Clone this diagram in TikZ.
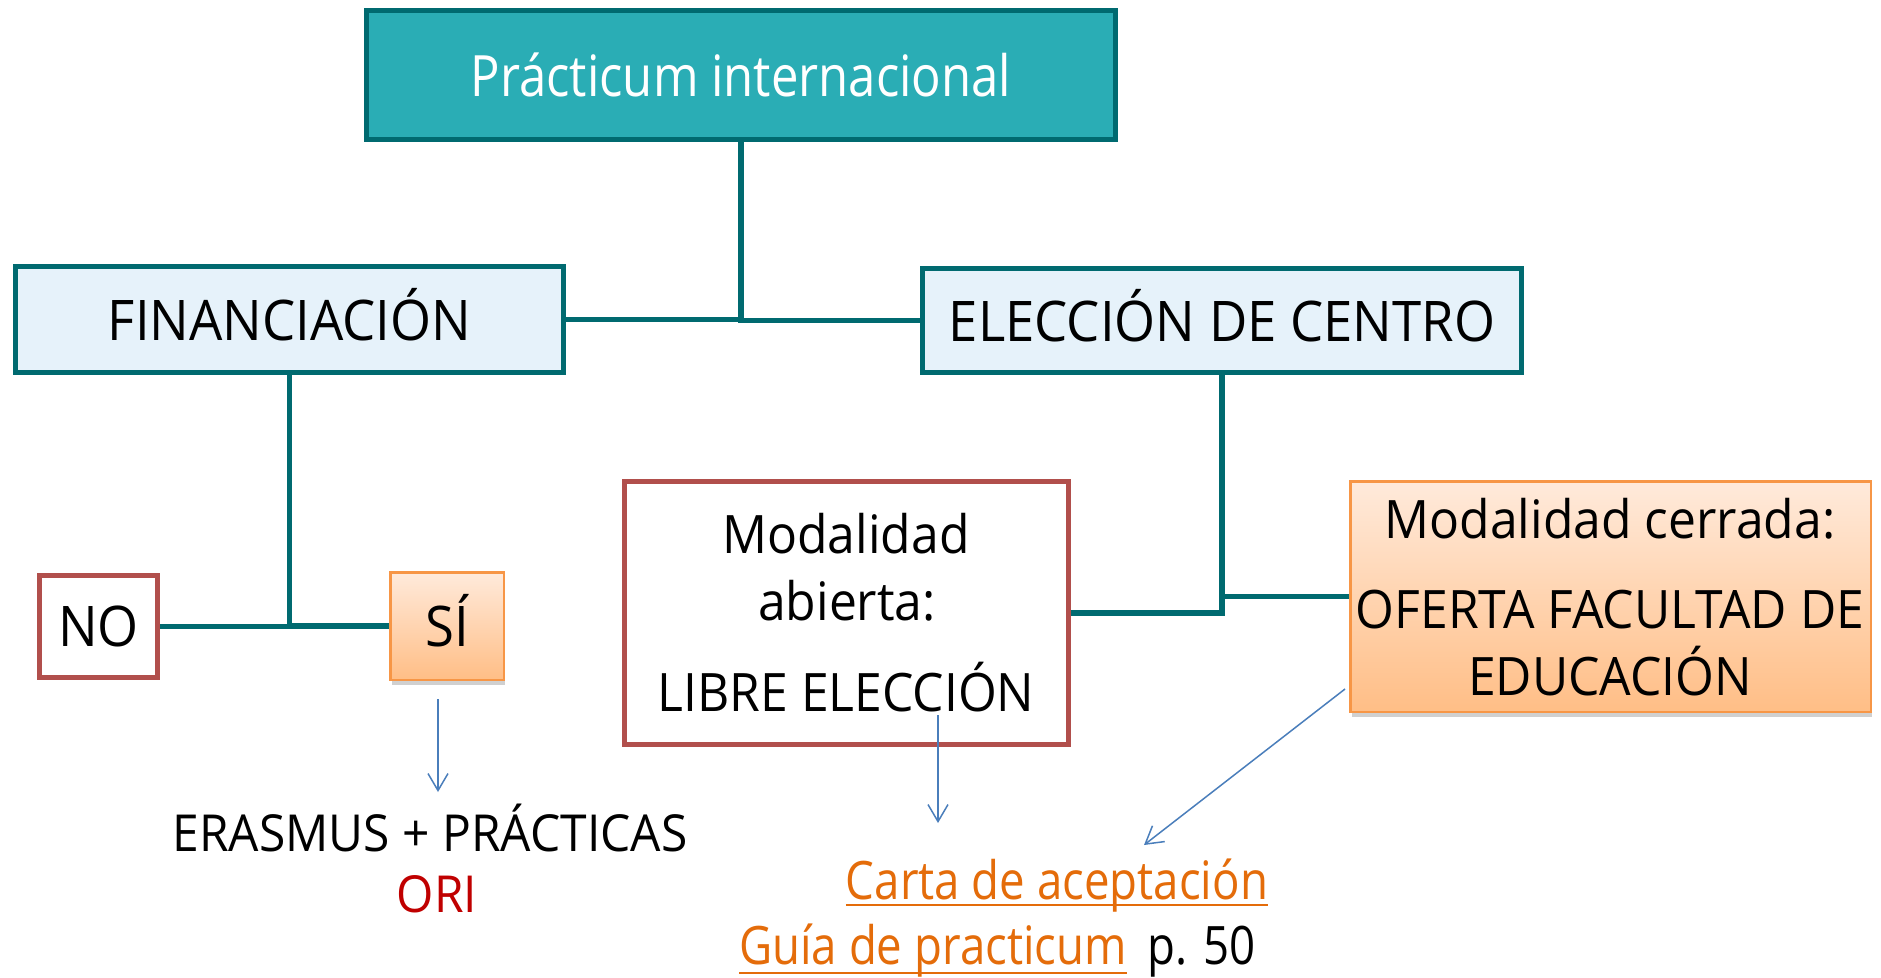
\documentclass[tikz,border=0pt]{standalone}
\usepackage{fontspec}
\setmainfont{Open Sans}[FakeStretch=0.94]
\newfontfamily\narrowfont{Open Sans}[FakeStretch=0.86]
\usetikzlibrary{arrows.meta,shadows}
\definecolor{tealfill}{HTML}{2AADB5}
\definecolor{tealdark}{HTML}{006A70}
\definecolor{lightblue}{HTML}{E6F2FA}
\definecolor{redbrd}{HTML}{B14F4C}
\definecolor{orbrd}{HTML}{F79646}
\definecolor{ortop}{HTML}{FFEADB}
\definecolor{orbot}{HTML}{FFBE86}
\definecolor{arrblue}{HTML}{4A7EBB}
\definecolor{orired}{HTML}{C00000}
\definecolor{linkor}{HTML}{E46C0A}
\newcommand\fsTitle{\narrowfont\fontsize{57}{68}\selectfont}
\newcommand\fsBig{\fontsize{56}{67}\selectfont}
\newcommand\fsMid{\fontsize{53}{64}\selectfont}
\newcommand\fsLink{\narrowfont\fontsize{53}{64}\selectfont}
\newcommand\fsSmall{\fontsize{51}{61}\selectfont}
\begin{document}
\begin{tikzpicture}[x=1pt,y=-1pt,
  tealbox/.style={draw=tealdark, line width=5pt, fill=tealfill, inner sep=0pt},
  bluebox/.style={draw=tealdark, line width=5pt, fill=lightblue, inner sep=0pt},
  redbox/.style={draw=redbrd, line width=5pt, fill=white, inner sep=0pt},
  orbox/.style={draw=orbrd, line width=2.5pt, top color=ortop, bottom color=orbot, inner sep=0pt,
    drop shadow={shadow xshift=1.5pt, shadow yshift=-5pt, opacity=0.3, fill=black!60}},
  conn/.style={draw=tealdark, line width=5.5pt},
  barrow/.style={draw=arrblue, line width=1.5pt, -{Straight Barb[length=17pt,width=20pt,line width=1.5pt]}},
  txt/.style={inner sep=0pt, anchor=base},
]
\useasboundingbox (0,0) rectangle (1881,977);
\fill[white] (0,0) rectangle (1881,977);

% boxes
\node[tealbox, minimum width=749pt, minimum height=129pt, text height=42pt, text depth=0pt, font=\fsTitle, text=white] (title) at (741,75) {Prácticum internacional};
\node[bluebox, minimum width=548pt, minimum height=106pt, text height=41pt, text depth=0pt, font=\fsBig] (fin) at (289.5,319.5) {FINANCIACIÓN};
\node[bluebox, minimum width=599pt, minimum height=104pt, text height=41pt, text depth=0pt, font=\fsBig] (elec) at (1222,320.5) {ELECCIÓN DE CENTRO};
\node[redbox, minimum width=118pt, minimum height=102pt, text height=39pt, text depth=0pt, font=\fsBig] (no) at (98.5,626.5) {NO};
\node[orbox, minimum width=113.5pt, minimum height=107.5pt, text height=40pt, text depth=0pt, font=\fsBig] (si) at (447,626) {SÍ};
\node[redbox, minimum width=444pt, minimum height=263pt] (abierta) at (846.5,613) {};
\node[orbox, minimum width=520.5pt, minimum height=230.5pt] (cerrada) at (1610.5,596.5) {};

% texts inside multi-line boxes
\node[txt, font=\fsMid] (abiertaA) at (846,553) {Modalidad};
\node[txt, font=\fsMid] (abiertaB) at (847,620) {abierta:};
\node[txt, font=\fsMid] (abiertaC) at (846,711) {LIBRE ELECCIÓN};
\node[txt, font=\fsMid] (cerradaA) at (1610,538) {Modalidad cerrada:};
\node[txt, font=\fsMid] (cerradaB) at (1610,628) {OFERTA FACULTAD DE};
\node[txt, font=\fsMid] (cerradaC) at (1610,695) {EDUCACIÓN};

% connectors
\draw[conn] (fin.east) -| (title.south);
\draw[conn] (elec.west) -| (title.south);
\draw[conn] (fin.south) |- (no.east);
\draw[conn] (fin.south) |- (si.west);
\draw[conn] (elec.south) |- (abierta.east);
\draw[conn] (cerrada.west) -| (elec.south);

% lower texts
\node[txt, font=\fsSmall] (erasmus) at (430,851) {ERASMUS + PRÁCTICAS};
\node[txt, font=\fsSmall, text=orired] (ori) at (437,912) {ORI};
\node[txt, font=\fsLink, text=linkor] (carta) at (1057,899) {Carta de aceptación};
\node[txt, font=\fsLink, text=linkor, anchor=base west] (guia) at (739,964) {Guía de practicum};
\node[txt, font=\fsLink, anchor=base west] (pag) at (1147,964) {p. 50};
\draw[linkor, line width=2.5pt] ([yshift=-6pt]carta.base west) -- ([yshift=-6pt]carta.base east);
\draw[linkor, line width=2.5pt] ([yshift=-9pt]guia.base west) -- ([yshift=-9pt]guia.base east);

% blue arrows
\coordinate (a1s) at (438,699);
\coordinate (a1e) at (438,792);
\coordinate (a2s) at (938,715);
\coordinate (a2e) at (938,823);
\coordinate (a3s) at (1345,689);
\coordinate (a3e) at (1144,845);
\draw[barrow] (a1s) -- (a1e);
\draw[barrow] (a2s) -- (a2e);
\draw[barrow] (a3s) -- (a3e);
\end{tikzpicture}
\end{document}
